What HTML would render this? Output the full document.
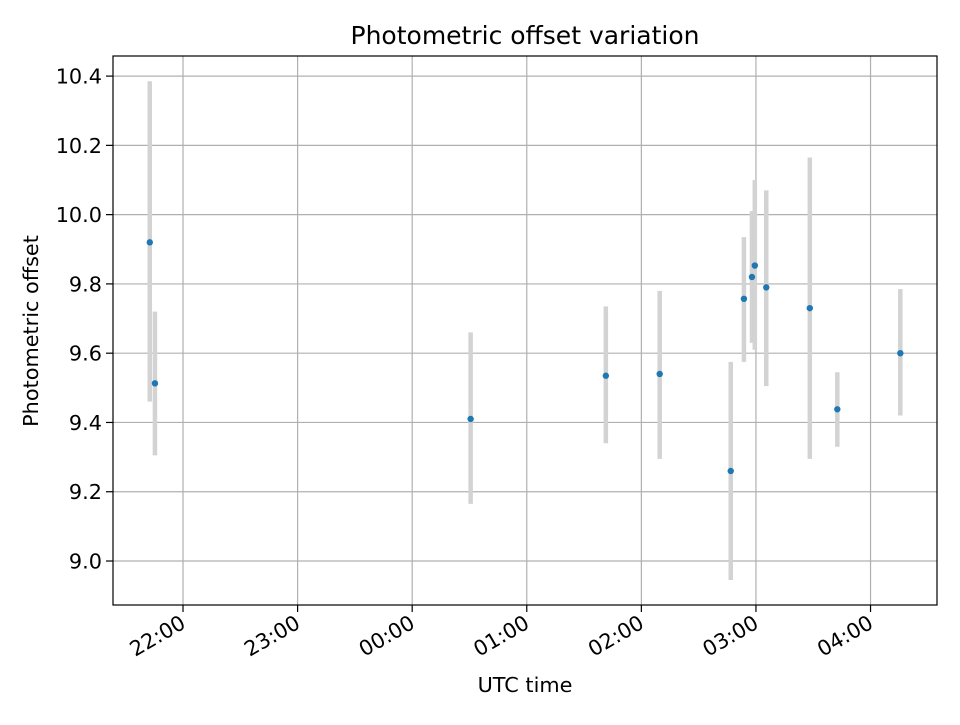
<!DOCTYPE html>
<html><head><meta charset="utf-8"><style>
body{margin:0;background:#fff;}
text{font-family:"DejaVu Sans","Liberation Sans",sans-serif;fill:#000;}
</style></head><body>
<svg id="chart" width="960" height="720" xmlns="http://www.w3.org/2000/svg">
<rect width="960" height="720" fill="#fff"/>
<g id="grid"></g><g id="marks"></g><g id="axes"></g>
<text x="525" y="44" text-anchor="middle" font-size="25">Photometric offset variation</text>
<text x="525" y="692" text-anchor="middle" font-size="20.8">UTC time</text>
<text transform="translate(38,331) rotate(-90)" text-anchor="middle" font-size="20.8">Photometric offset</text>
</svg>
<script>
// time in hours relative to 22:00
const times=[-0.29,-0.245,2.51,3.69,4.16,4.78,4.895,4.965,4.99,5.09,5.47,5.71,6.26];
const values=[9.92,9.513,9.41,9.535,9.54,9.26,9.757,9.82,9.853,9.79,9.73,9.438,9.6];
const errLow=[9.46,9.305,9.165,9.34,9.295,8.945,9.575,9.63,9.61,9.505,9.295,9.33,9.42];
const errHigh=[10.385,9.72,9.66,9.735,9.78,9.575,9.935,10.01,10.1,10.07,10.165,9.545,9.785];
const xTicks=[0,1,2,3,4,5,6];
const xTickLabels=["22:00","23:00","00:00","01:00","02:00","03:00","04:00"];
const yTicks=[9.0,9.2,9.4,9.6,9.8,10.0,10.2,10.4];
const yTickLabels=["9.0","9.2","9.4","9.6","9.8","10.0","10.2","10.4"];

const L=113,R=937,T=56,B=605;
const xMin=-0.611,xMax=6.58,yMin=8.873,yMax=10.458;
const X=v=>L+(v-xMin)/(xMax-xMin)*(R-L);
const Y=v=>B-(v-yMin)/(yMax-yMin)*(B-T);
const NS="http://www.w3.org/2000/svg";
function mk(tag,attrs,parent){const e=document.createElementNS(NS,tag);for(const k in attrs)e.setAttribute(k,attrs[k]);parent.appendChild(e);return e;}
const grid=document.getElementById('grid'),marks=document.getElementById('marks'),axes=document.getElementById('axes');
xTicks.forEach((t,i)=>{
  const x=X(t);
  const g=mk('line',{x1:x,x2:x,y1:T,y2:B,stroke:'#b0b0b0','stroke-width':1.2},grid);
  
  
  const tk=mk('line',{x1:x,x2:x,y1:B,y2:B+7,stroke:'#000','stroke-width':1.2},axes);
  
  
  const tx=mk('text',{x:x+4,y:B+22,'text-anchor':'end','font-size':20.8,transform:`rotate(-30 ${x+4} ${B+22})`},axes);
  tx.textContent=xTickLabels[i];
  
  
});
yTicks.forEach((t,i)=>{
  const y=Y(t);
  const g=mk('line',{x1:L,x2:R,y1:y,y2:y,stroke:'#b0b0b0','stroke-width':1.2},grid);
  
  
  const tk=mk('line',{x1:L-7,x2:L,y1:y,y2:y,stroke:'#000','stroke-width':1.2},axes);
  
  
  const tx=mk('text',{x:L-11,y:y+7.5,'text-anchor':'end','font-size':20.8},axes);
  tx.textContent=yTickLabels[i];
  
  
});
times.forEach((t,i)=>{
  const x=X(t);
  const eb=mk('line',{x1:x,x2:x,y1:Y(errLow[i]),y2:Y(errHigh[i]),stroke:'#d3d3d3','stroke-width':4.5},marks);
  
  
});
times.forEach((t,i)=>{
  const p=mk('circle',{cx:X(t),cy:Y(values[i]),r:3.2,fill:'#1f77b4'},marks);
  
  
});
const fr=mk('rect',{x:L,y:T,width:R-L,height:B-T,fill:'none',stroke:'#000','stroke-width':1.2},axes);


</script>
</body></html>
